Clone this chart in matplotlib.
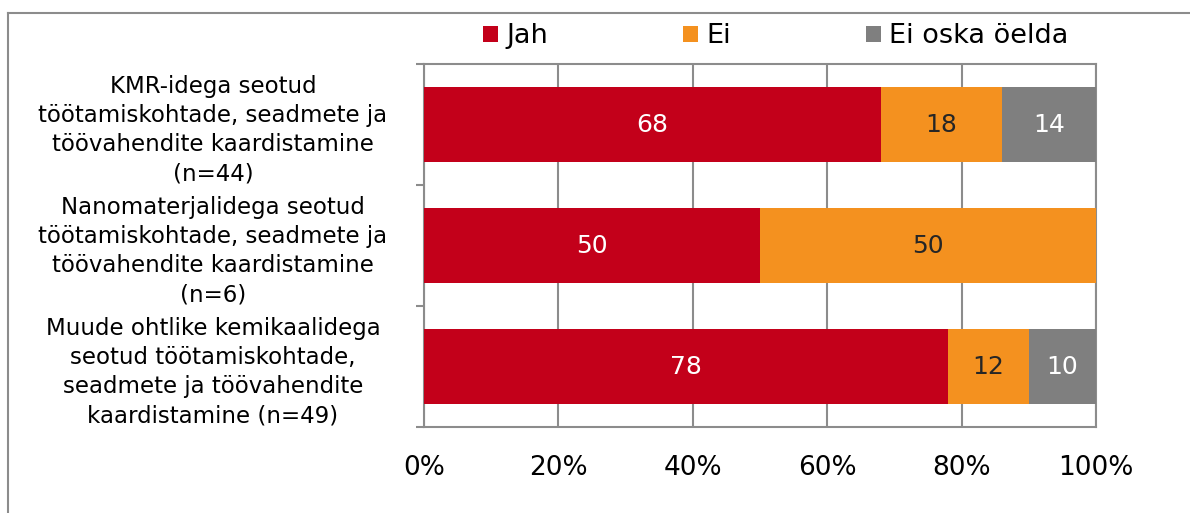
import matplotlib
matplotlib.use("Agg")
import matplotlib.pyplot as plt
from matplotlib.lines import Line2D
import numpy as np

categories = [
    "KMR-idega seotud\ntöötamiskohtade, seadmete ja\ntöövahendite kaardistamine\n(n=44)",
    "Nanomaterjalidega seotud\ntöötamiskohtade, seadmete ja\ntöövahendite kaardistamine\n(n=6)",
    "Muude ohtlike kemikaalidega\nseotud töötamiskohtade,\nseadmete ja töövahendite\nkaardistamine (n=49)",
]
series_names = ["Jah", "Ei", "Ei oska öelda"]
jah = [68, 50, 78]
ei = [18, 50, 12]
ei_oska = [14, 0, 10]
x_ticks = [0, 20, 40, 60, 80, 100]
x_tick_labels = ["0%", "20%", "40%", "60%", "80%", "100%"]

colors = ["#C3001A", "#F4911F", "#7F7F7F"]
label_colors = ["white", "#262626", "white"]
edge_gray = "#8C8C8C"

fig = plt.figure(figsize=(11.9, 5.13), dpi=100)
ax = fig.add_axes([0.3563, 0.1676, 0.921 - 0.3563, 0.8752 - 0.1676])

y = np.arange(len(categories))
left = np.zeros(len(categories))
containers = []
for vals, col, lc, name in zip([jah, ei, ei_oska], colors, label_colors, series_names):
    vals = np.array(vals, dtype=float)
    bars = ax.barh(y, vals, left=left, height=0.62, color=col, label=name, zorder=3)
    containers.append(bars)
    for yi, v, l in zip(y, vals, left):
        if v > 0:
            ax.text(l + v / 2, yi, f"{int(v)}", ha="center", va="center",
                    fontsize=18, color=lc, zorder=4)
    left = left + vals

ax.set_xlim(0, 100)
ax.set_ylim(len(categories) - 0.5, -0.5)
ax.set_xticks(x_ticks)
ax.set_xticklabels(x_tick_labels, fontsize=19)
ax.tick_params(axis="x", length=0, pad=20)
ax.grid(axis="x", color=edge_gray, linewidth=1.5, zorder=0)

ax.set_yticks(y)
ax.set_yticklabels(categories, fontsize=16.5, ha="center", multialignment="center",
                   linespacing=1.35)
ax.tick_params(axis="y", which="major", length=0, pad=152)
ax.set_yticks(np.arange(-0.5, len(categories), 1.0), minor=True)
ax.tick_params(axis="y", which="minor", length=6, width=1.5, color=edge_gray, direction="out")

for s in ax.spines.values():
    s.set_color(edge_gray)
    s.set_linewidth(1.5)

fig.legend(handles=containers, labels=series_names, loc="center",
           bbox_to_anchor=(0.652, 0.929), ncol=3, frameon=False, fontsize=19.5,
           handlelength=0.55, handleheight=0.55, handletextpad=0.3, columnspacing=5.0,
           borderpad=0)

# outer figure border (top and left visible)
fig.add_artist(Line2D([7.5 / 1190, 1.0], [1 - 12.5 / 513, 1 - 12.5 / 513],
                      transform=fig.transFigure, color=edge_gray, linewidth=1.5))
fig.add_artist(Line2D([7.5 / 1190, 7.5 / 1190], [0.0, 1 - 12.5 / 513],
                      transform=fig.transFigure, color=edge_gray, linewidth=1.5))

fig.savefig("out.png", dpi=100)
